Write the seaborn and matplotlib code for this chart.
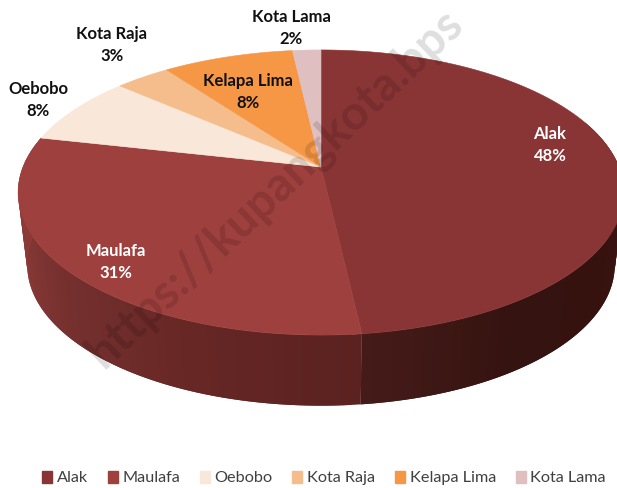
import numpy as np
import matplotlib
matplotlib.use('Agg')
import matplotlib.pyplot as plt
import seaborn as sns
from matplotlib.patches import Patch

kecamatan = ['Alak', 'Maulafa', 'Oebobo', 'Kota Raja', 'Kelapa Lima', 'Kota Lama']
# shares as read from the slice edges, the printed labels are rounded by the source
porsi = [48.2, 30.3, 7.9, 3.5, 8.3, 1.8]
persen = ['48%', '31%', '8%', '3%', '8%', '2%']

warna = ['#8a3535', '#9e403e', '#f9e8d9', '#f6bd8c', '#f59745', '#e0bfc1']
warna_teks = ['white', 'white', '#111111', '#111111', '#111111', '#111111']
label_x = [550, 116, 38, 112, 248, 291]
label_y = [145, 262, 100, 45, 92, 28]

# perspective of the pie disc, in pixels
K = 0.179


def proyeksi(theta, x0, y0, a, b):
    u, v = np.sin(theta), np.cos(theta)
    return x0 + a * u / (1 + K * v), y0 - b * v / (1 + K * v)


def atas(theta):
    return proyeksi(theta, 321, 167, 298, 138)


def bawah(theta):
    return proyeksi(theta, 321, 240, 289, 136)


def dinding(ax, t0, t1, warna_strip):
    # strips overlap the next one a bit so no seams show
    n = len(warna_strip)
    tepi = np.linspace(t0, t1, n + 1)
    lebar = tepi[1] - tepi[0]
    for i in range(n):
        t = np.linspace(tepi[i], tepi[i] + 2 * abs(lebar) * np.sign(lebar), 4)
        t = np.clip(t, min(t0, t1), max(t0, t1))
        xa, ya = atas(t)
        xb, yb = bawah(t)
        ax.fill(np.r_[xa, xb[::-1]], np.r_[ya, yb[::-1]], color=warna_strip[i], lw=0)


sns.set_theme(style='white')
plt.rcParams['font.family'] = ['Lato', 'DejaVu Sans']

fig = plt.figure(figsize=(6.17, 4.88), dpi=100)
ax = fig.add_axes([0, 0, 1, 1])
ax.set_xlim(0, 617)
ax.set_ylim(488, 0)
ax.axis('off')

batas = np.radians(np.concatenate([[0], np.cumsum(porsi)]) / sum(porsi) * 360)

# side wall
dinding(ax, np.radians(70), batas[1], sns.blend_palette(['#3a1412', '#3a1412', '#36120f', '#351310', '#451b19'], 60))
dinding(ax, batas[1], batas[2], sns.blend_palette(['#5a2220', '#672725', '#74302e', '#8b3a38', '#8b3a38'], 70))

# top faces
for i, nama in enumerate(kecamatan):
    t = np.linspace(batas[i], batas[i + 1], 120)
    x, y = atas(t)
    ax.fill(np.r_[321, x], np.r_[167, y], color=warna[i], lw=0.4)

for i, nama in enumerate(kecamatan):
    ax.text(label_x[i], label_y[i], nama + '\n' + persen[i], color=warna_teks[i], fontsize=12,
            fontweight='bold', ha='center', va='center', linespacing=1.4)

# watermark
ax.text(94, 360, 'https://kupangkota.bps', color='black', alpha=0.13, fontsize=34,
        fontweight='bold', rotation=43.5, rotation_mode='anchor', ha='left', va='center', clip_on=True)

handles = [Patch(color=c, label=n) for c, n in zip(warna, kecamatan)]
ax.legend(handles=handles, loc='center', bbox_to_anchor=(324 / 617, 1 - 478 / 488), ncol=6, frameon=False,
          fontsize=11.7, handlelength=0.62, handleheight=0.75, handletextpad=0.3, columnspacing=1.2,
          labelcolor='#404040', borderpad=0, borderaxespad=0)

plt.savefig('out.png', dpi=100)
